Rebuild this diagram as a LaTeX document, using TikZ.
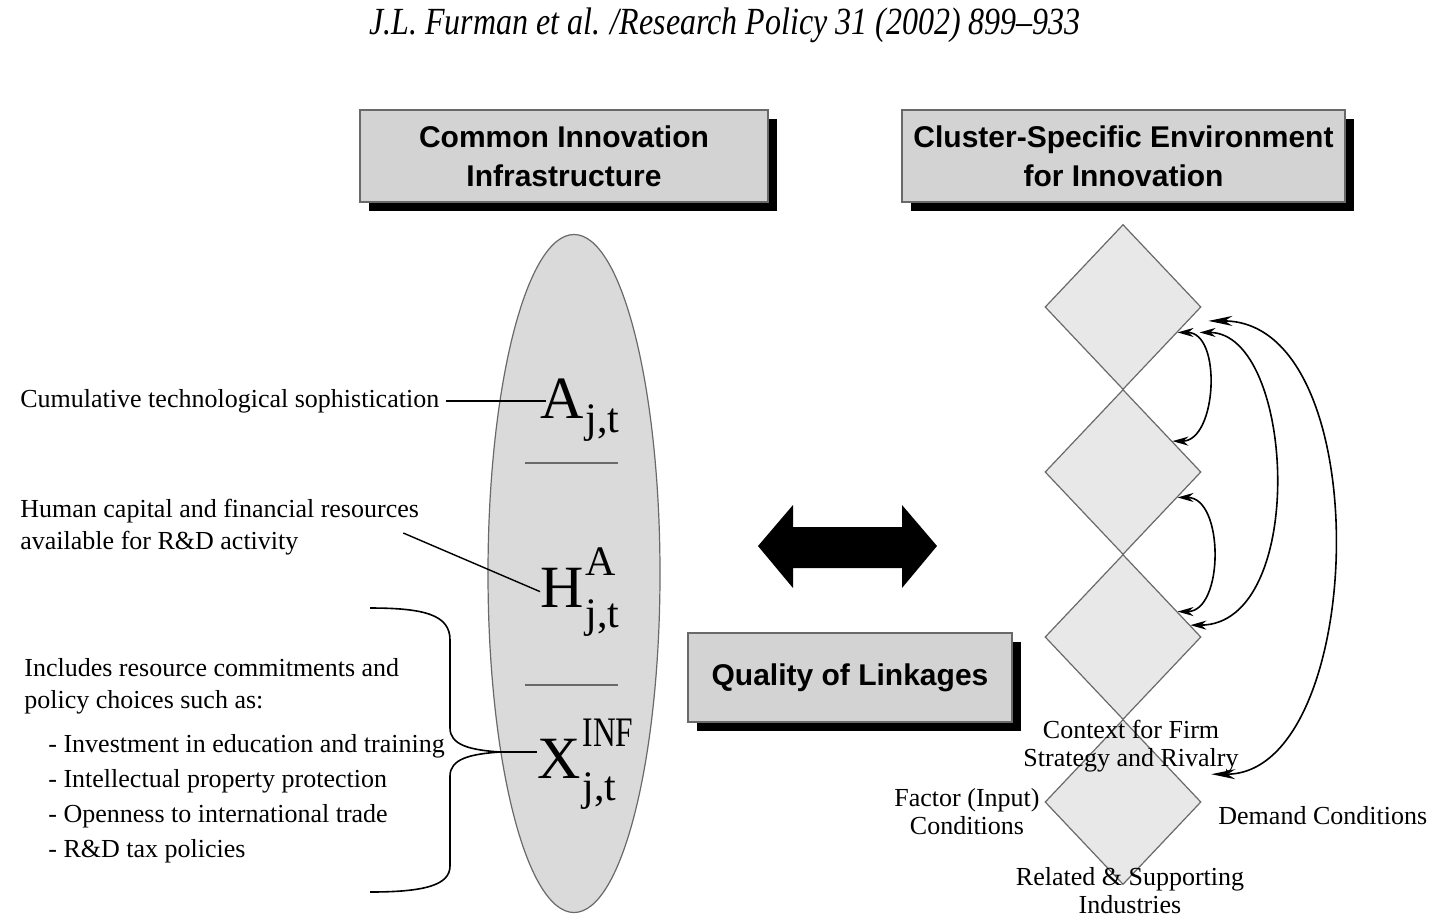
\documentclass[tikz,border=0pt]{standalone}
\usepackage{fontspec}
\setmainfont{Liberation Serif}
\newfontfamily\headfont{Liberation Sans}
\usetikzlibrary{arrows.meta,shapes.geometric,shadows}
\definecolor{BoxGray}{RGB}{211,211,211}
\definecolor{EllipseGray}{RGB}{218,218,218}
\definecolor{DiamondGray}{RGB}{232,232,232}
\definecolor{EdgeGray}{RGB}{105,105,105}

\newcommand\idxfont{\fontsize{21}{21}\selectfont}
\newcommand\indic[4][10pt]{#2\kern1pt\rlap{\raisebox{16pt}{\idxfont #3}}\raisebox{-#1}{\idxfont #4}}

\tikzset{
  titlebox/.style={draw=EdgeGray, fill=BoxGray, line width=0.7pt, align=center, inner sep=0pt,
    font=\headfont\bfseries\fontsize{15}{19.5}\selectfont,
    drop shadow={shadow xshift=4.5pt, shadow yshift=-4.5pt, fill=black, opacity=1}},
  factorbox/.style={diamond, draw=EdgeGray, fill=DiamondGray, line width=0.6pt, inner sep=0pt,
    minimum width=78pt, minimum height=82.5pt},
  note/.style={align=left, inner sep=0pt, font=\fontsize{13}{16}\selectfont},
  porter/.style={align=center, inner sep=0pt, font=\fontsize{13}{14}\selectfont},
  symbol/.style={inner sep=0pt, font=\fontsize{30}{30}\selectfont},
  link/.style={line width=0.8pt, {Stealth[length=8pt,width=4.5pt]}-{Stealth[length=8pt,width=4.5pt]}},
  longlink/.style={line width=0.8pt, {Stealth[length=12pt,width=5pt]}-{Stealth[length=12pt,width=5pt]}},
}

\begin{document}
\begin{tikzpicture}[x={(0.5pt,0)}, y={(0,-0.5pt)}]
  \fill[white] (0,0) rectangle (1450,917);

  % citation line
  \node[font=\fontsize{16}{16}\selectfont\itshape] (cite) at (725,25)
    {\scalebox{1}[1.2]{J.L. Furman et al. /Research Policy 31 (2002) 899--933}};

  % headings
  \node[titlebox, minimum width=204pt, minimum height=46pt] (cii) at (564,156) {Common Innovation\\Infrastructure};
  \node[titlebox, minimum width=221.5pt, minimum height=46pt] (cse) at (1123.5,156) {Cluster-Specific Environment\\for Innovation};
  \node[titlebox, minimum width=162pt, minimum height=44.5pt] (qol) at (850,677.5) {Quality of Linkages};

  % common infrastructure
  \node[ellipse, draw=EdgeGray, fill=EllipseGray, line width=0.6pt, inner sep=0pt,
    minimum width=86pt, minimum height=339pt] (infra) at (574,573.5) {};
  \draw[EdgeGray, line width=0.7pt] (525,463) -- (618,463);
  \draw[EdgeGray, line width=0.7pt] (525,685) -- (618,685);
  \node[symbol, anchor=base west] (symA) at (540,418) {\indic[7pt]{A}{}{j,t}};
  \node[symbol, anchor=base west] (symH) at (540,607) {\indic{H}{A}{j,t}};
  \node[symbol, anchor=base west] (symX) at (537,778) {\indic[11pt]{X}{\scalebox{0.75}[1]{INF}}{j,t}};

  % descriptions
  \node[note, anchor=west] (cumul) at (20,401) {Cumulative technological sophistication};
  \node[note, anchor=west] (human) at (20,527) {Human capital and financial resources\\available for R\&D activity};
  \node[note, anchor=west] (incl) at (24,686) {Includes resource commitments and\\policy choices such as:};
  \node[note, font=\fontsize{13}{17.5}\selectfont, anchor=west] (items) at (48,798.5)
    {- Investment in education and training\\- Intellectual property protection\\- Openness to international trade\\- R\&D tax policies};
  \draw[line width=0.7pt] ([xshift=3pt]cumul.east) -- ([xshift=3pt]cumul.east -| symA.west);
  \draw[line width=0.7pt] ([shift={(-8pt,-3pt)}]human.east) -- (symH.west);
  \draw[line width=0.8pt] (370,608) .. controls (425,608) and (450,615) .. (450,640) -- (450,728)
    .. controls (450,745) and (470,750) .. (500,752) coordinate (brtip)
    .. controls (470,754) and (450,759) .. (450,776) -- (450,866)
    .. controls (450,885) and (425,892) .. (370,892);
  \draw[line width=0.8pt] (brtip) -- (brtip -| symX.west);

  % linkage arrow
  \fill (758,546) -- (793,505) -- (793,527) -- (902,527) -- (902,505) -- (937,546)
    -- (902,588) -- (902,568) -- (793,568) -- (793,588) -- cycle;

  % diamond
  \node[factorbox] (d1) at (1123,307) {};
  \node[factorbox] (d2) at (1123,472) {};
  \node[factorbox] (d3) at (1123,637) {};
  \node[factorbox] (d4) at (1123,802) {};
  \draw[link] (d1.-25) to[out=0, in=0, looseness=1.05] (d2.32);
  \draw[link] (d2.-25) to[out=0, in=0, looseness=1.05] (d3.25);
  \draw[link, shorten <=11pt] (d1.-25) to[out=0, in=0, looseness=1.03] (d3.10);
  \draw[longlink, shorten <=10pt, shorten >=18pt] (d1.-12) to[out=0, in=0, looseness=1.08] (d4.28);

  \node[porter] (ctx) at (1131,746) {Context for Firm\\Strategy and Rivalry};
  \node[porter] (factor) at (967,812) {Factor (Input)\\Conditions};
  \node[porter, anchor=west] (demand) at (1218,816) {Demand Conditions};
  \node[porter] (related) at (1130,891) {Related \& Supporting\\Industries};
\end{tikzpicture}
\end{document}
